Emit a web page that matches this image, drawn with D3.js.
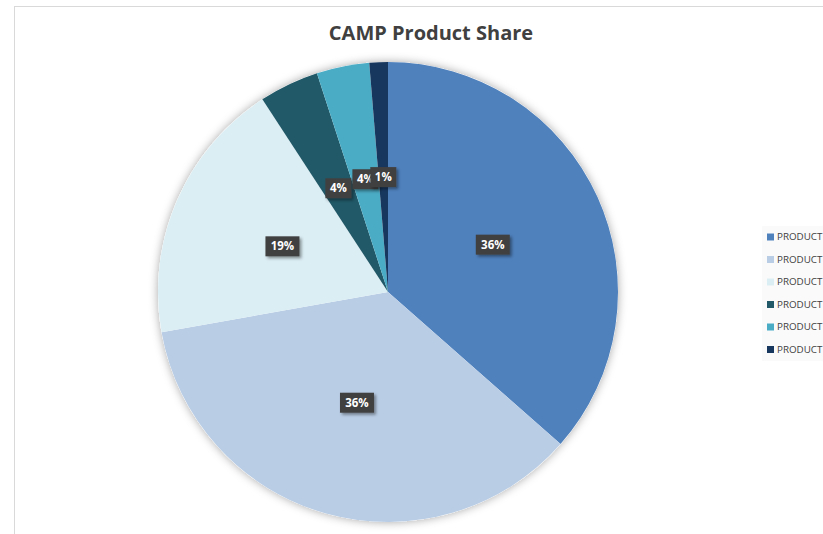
<!DOCTYPE html>
<html>
<head>
<meta charset="utf-8">
<script src="https://cdn.jsdelivr.net/npm/d3@7"></script>
<style>
  body { margin: 0; background: #fff; overflow: hidden; }
  text { font-family: "Open Sans", "Noto Sans", sans-serif; }
</style>
</head>
<body>
<script>
"use strict";

// data (legend names are cut at the page edge in the original)
var products = ["PRODUCT", "PRODUCT", "PRODUCT", "PRODUCT", "PRODUCT", "PRODUCT"];
var shares = [36.5, 35.7, 18.6, 4.2, 3.7, 1.3];
var labels = ["36%", "36%", "19%", "4%", "4%", "1%"];
var colors = ["#4f81bd", "#b9cde5", "#dbeef4", "#215968", "#4bacc6", "#17375e"];

var W = 823, H = 534;
var cx = 388, cy = 292, radius = 230;

var data = products.map(function(p, i){
  return {name: p, value: shares[i], label: labels[i], color: colors[i]};
});

var svg = d3.select("body").append("svg")
    .attr("width", W)
    .attr("height", H);

var defs = svg.append("defs");
var sh = defs.append("filter").attr("id", "pieShadow")
    .attr("x", "-10%").attr("y", "-10%").attr("width", "120%").attr("height", "120%");
sh.append("feDropShadow").attr("dx", 0).attr("dy", 0)
    .attr("stdDeviation", 5).attr("flood-color", "#000").attr("flood-opacity", 0.35);

var lsh = defs.append("filter").attr("id", "lblShadow")
    .attr("x", "-30%").attr("y", "-30%").attr("width", "160%").attr("height", "160%");
lsh.append("feDropShadow").attr("dx", 2).attr("dy", 2)
    .attr("stdDeviation", 1.5).attr("flood-color", "#000").attr("flood-opacity", 0.4);

// chart frame
svg.append("rect")
    .attr("x", 14.5).attr("y", 6.5)
    .attr("width", 840).attr("height", 560)
    .attr("fill", "#fff")
    .attr("stroke", "#d9d9d9");

// title
svg.append("text")
    .attr("x", 431).attr("y", 40)
    .attr("text-anchor", "middle")
    .attr("font-size", 20)
    .attr("font-weight", "bold")
    .attr("fill", "#404040")
    .text("CAMP Product Share");

var pie = d3.pie().sort(null).value(function(d){ return d.value; });
var arc = d3.arc().innerRadius(0).outerRadius(radius);
var arcs = pie(data);

var g = svg.append("g").attr("transform", "translate(" + cx + "," + cy + ")");

g.append("circle").attr("r", radius).attr("fill", "#fff").attr("filter", "url(#pieShadow)");

g.selectAll("path.slice").data(arcs)
  .enter().append("path")
    .attr("class", "slice")
    .attr("d", arc)
    .attr("fill", function(d){ return d.data.color; });

// data labels
var lbl = g.selectAll("g.lbl").data(arcs)
  .enter().append("g")
    .attr("class", "lbl")
    .attr("transform", function(d){
      var c = arc.centroid(d);
      return "translate(" + c[0] + "," + c[1] + ")";
    });

lbl.each(function(d){
  var sel = d3.select(this);
  var bw = d.data.label.length > 2 ? 34 : 26, bh = 20;
  sel.append("rect")
      .attr("x", -bw / 2).attr("y", -bh / 2)
      .attr("width", bw).attr("height", bh)
      .attr("fill", "#404040")
      .attr("filter", "url(#lblShadow)");
  sel.append("text")
      .attr("text-anchor", "middle")
      .attr("dy", "0.36em")
      .attr("font-size", 11.5)
      .attr("font-weight", "bold")
      .attr("fill", "#fff")
      .text(d.data.label);
});

// legend
var legend = svg.append("g").attr("transform", "translate(762,226)");
legend.append("rect")
    .attr("width", 80).attr("height", 135)
    .attr("fill", "#fafafa");

var items = legend.selectAll("g.item").data(data)
  .enter().append("g")
    .attr("class", "item")
    .attr("transform", function(d, i){ return "translate(5," + (11 + i * 22.5) + ")"; });

items.append("rect")
    .attr("x", 0).attr("y", -3.5)
    .attr("width", 7).attr("height", 7)
    .attr("fill", function(d){ return d.color; });

items.append("text")
    .attr("x", 10).attr("dy", "0.35em")
    .attr("font-size", 9.8)
    .attr("fill", "#404040")
    .text(function(d){ return d.name; });
</script>
</body>
</html>
